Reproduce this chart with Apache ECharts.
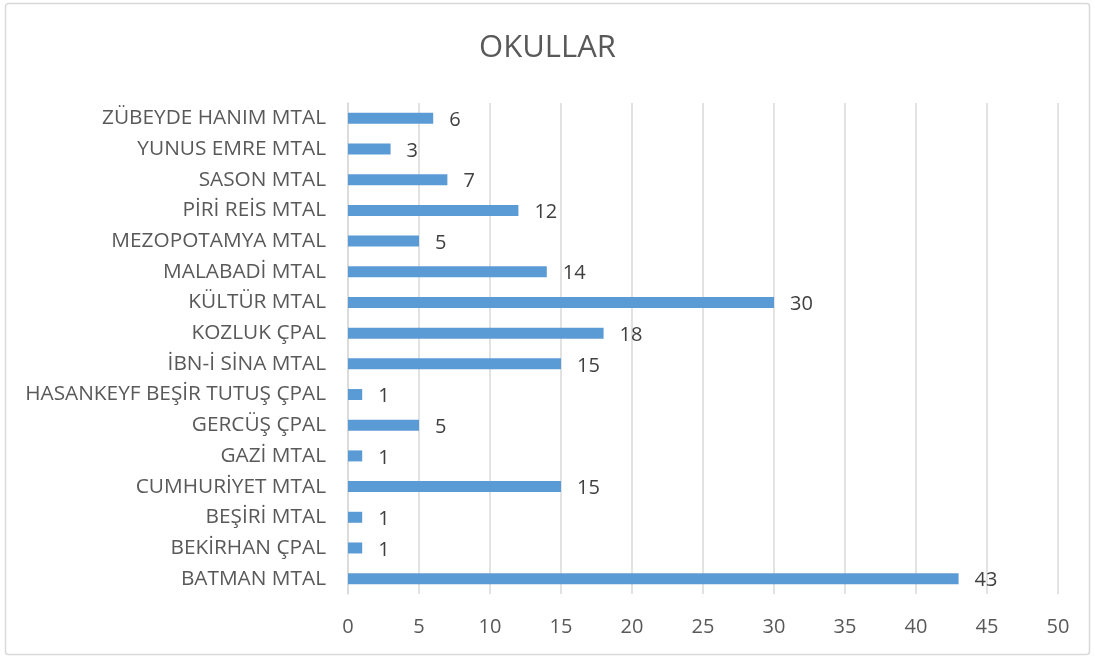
<!DOCTYPE html>
<html>
<head>
<meta charset="utf-8">
<script src="https://cdn.jsdelivr.net/npm/echarts@6/dist/echarts.min.js"></script>
<style>
  html, body { margin: 0; padding: 0; background: #fff; }
  #chart { width: 1095px; height: 657px; }
</style>
</head>
<body>
<div id="chart"></div>
<script>
// categories listed bottom -> top, as drawn on the axis
var schools = [
  'BATMAN MTAL', 'BEKİRHAN ÇPAL', 'BEŞİRİ MTAL', 'CUMHURİYET MTAL', 'GAZİ MTAL',
  'GERCÜŞ ÇPAL', 'HASANKEYF BEŞİR TUTUŞ ÇPAL', 'İBN-İ SİNA MTAL', 'KOZLUK ÇPAL',
  'KÜLTÜR MTAL', 'MALABADİ MTAL', 'MEZOPOTAMYA MTAL', 'PİRİ REİS MTAL',
  'SASON MTAL', 'YUNUS EMRE MTAL', 'ZÜBEYDE HANIM MTAL'
]
var counts = [43, 1, 1, 15, 1, 5, 1, 15, 18, 30, 14, 5, 12, 7, 3, 6]

var chart = echarts.init(document.getElementById('chart'))
chart.setOption({
  animation: false,
  textStyle: { fontFamily: 'Open Sans' },
  graphic: [{
    type: 'rect',
    shape: { x: 5.5, y: 3.5, width: 1084, height: 651, r: 3 },
    style: { fill: 'none', stroke: '#d9d9d9', lineWidth: 1.5 },
    silent: true
  }],
  title: {
    text: 'OKULLAR',
    left: 'center',
    top: 28,
    textStyle: { color: '#595959', fontSize: 31, fontWeight: 'normal' }
  },
  grid: { left: 348, right: 37, top: 103, bottom: 63 },
  xAxis: {
    type: 'value',
    min: 0,
    max: 50,
    interval: 5,
    axisLine: { show: false },
    axisTick: { show: false },
    axisLabel: { color: '#595959', fontSize: 20, margin: 23 },
    splitLine: { show: true, lineStyle: { color: '#d9d9d9', width: 1.5 } }
  },
  yAxis: {
    type: 'category',
    data: schools,
    axisLine: { show: true, lineStyle: { color: '#d9d9d9', width: 1.5 } },
    axisTick: { show: false },
    axisLabel: { color: '#595959', fontSize: 20.8, margin: 22 }
  },
  series: [{
    type: 'bar',
    data: counts,
    barWidth: 11,
    itemStyle: { color: '#5b9bd5' },
    label: {
      show: true,
      position: 'right',
      distance: 16,
      color: '#404040',
      fontSize: 20,
      offset: [0, 2]
    }
  }]
})
</script>
</body>
</html>
